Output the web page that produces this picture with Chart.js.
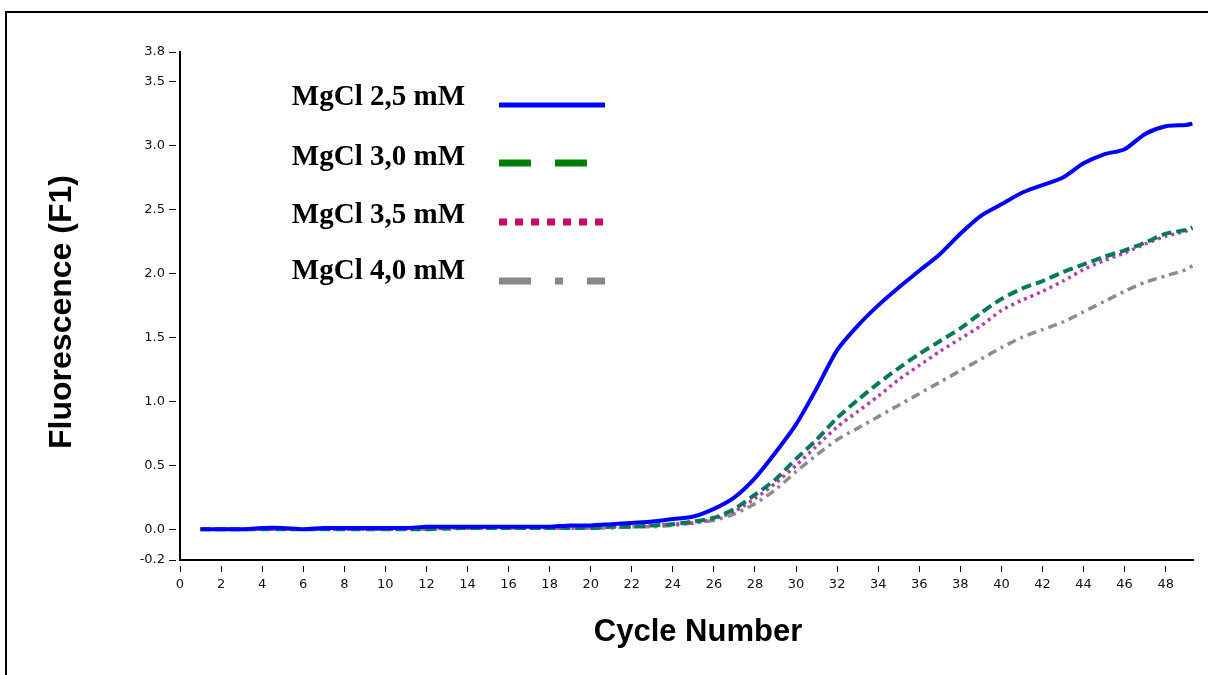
<!DOCTYPE html>
<html>
<head>
<meta charset="utf-8">
<script src="https://cdn.jsdelivr.net/npm/chart.js@4.4.1/dist/chart.umd.min.js"></script>
<style>
  html, body { margin: 0; padding: 0; background: #fff; }
  #wrap { position: relative; width: 1208px; height: 675px; }
</style>
</head>
<body>
<div id="wrap"><canvas id="pcrChart" width="1208" height="675"></canvas></div>
<script>
// amplification curves, one value per cycle (last point is the partial end of the run)
const cycles = [1, 2, 3, 4, 5, 6, 7, 8, 9, 10,
  11, 12, 13, 14, 15, 16, 17, 18, 19, 20,
  21, 22, 23, 24, 25, 26, 27, 28, 29, 30,
  31, 32, 33, 34, 35, 36, 37, 38, 39, 40,
  41, 42, 43, 44, 45, 46, 47, 48, 49, 49.3];

const mg25 = [0.00, 0.00, 0.00, 0.01, 0.01, 0.00, 0.01, 0.01, 0.01, 0.01,
  0.01, 0.02, 0.02, 0.02, 0.02, 0.02, 0.02, 0.02, 0.03, 0.03,
  0.04, 0.05, 0.06, 0.08, 0.10, 0.16, 0.25, 0.40, 0.60, 0.82,
  1.10, 1.40, 1.59, 1.75, 1.89, 2.02, 2.15, 2.31, 2.45, 2.54,
  2.63, 2.69, 2.75, 2.86, 2.93, 2.97, 3.09, 3.15, 3.16, 3.17];

const mg30 = [0.00, 0.00, 0.00, 0.00, 0.00, 0.00, 0.00, 0.00, 0.00, 0.00,
  0.00, 0.00, 0.01, 0.01, 0.01, 0.01, 0.01, 0.01, 0.01, 0.01,
  0.02, 0.02, 0.03, 0.04, 0.06, 0.09, 0.16, 0.27, 0.39, 0.55,
  0.70, 0.87, 1.01, 1.14, 1.26, 1.37, 1.47, 1.57, 1.69, 1.80,
  1.88, 1.94, 2.01, 2.07, 2.13, 2.18, 2.24, 2.31, 2.34, 2.36];

const mg35 = [0.00, 0.00, 0.00, 0.00, 0.00, 0.00, 0.00, 0.00, 0.00, 0.00,
  0.00, 0.00, 0.01, 0.01, 0.01, 0.01, 0.01, 0.01, 0.01, 0.01,
  0.02, 0.02, 0.03, 0.04, 0.05, 0.08, 0.14, 0.24, 0.36, 0.50,
  0.65, 0.80, 0.92, 1.04, 1.17, 1.28, 1.39, 1.49, 1.59, 1.71,
  1.79, 1.86, 1.94, 2.03, 2.10, 2.16, 2.23, 2.29, 2.33, 2.35];

const mg40 = [0.00, 0.00, 0.00, 0.00, 0.00, 0.00, 0.00, 0.00, 0.00, 0.00,
  0.00, 0.00, 0.00, 0.01, 0.01, 0.01, 0.01, 0.01, 0.01, 0.01,
  0.01, 0.02, 0.02, 0.03, 0.05, 0.07, 0.12, 0.20, 0.31, 0.45,
  0.58, 0.70, 0.79, 0.88, 0.97, 1.06, 1.15, 1.24, 1.33, 1.42,
  1.50, 1.56, 1.62, 1.70, 1.78, 1.86, 1.93, 1.98, 2.03, 2.06];

const seriesLabels = ["MgCl 2,5 mM", "MgCl 3,0 mM", "MgCl 3,5 mM", "MgCl 4,0 mM"];

const xTicks = [0, 2, 4, 6, 8, 10, 12, 14, 16, 18, 20, 22, 24,
  26, 28, 30, 32, 34, 36, 38, 40, 42, 44, 46, 48];
const yTicks = [-0.24, 0, 0.5, 1, 1.5, 2, 2.5, 3, 3.5, 3.73];
const yTickLabels = ["-0.2", "0.0", "0.5", "1.0", "1.5", "2.0", "2.5", "3.0", "3.5", "3.8"];

function toPoints(values) {
  return values.map((v, i) => ({ x: cycles[i], y: v }));
}

// legend swatches are drawn by hand: text on the left, line sample on the right
const legendStyles = [
  { color: "#0000ff", width: 5, dash: [], end: 605 },
  { color: "#008000", width: 7, dash: [32, 24], end: 587 },
  { color: "#cc0066", width: 7, dash: [8, 8], end: 605 },
  { color: "#888888", width: 7, dash: [32, 24, 8, 24], end: 605 }
];

const decorations = {
  id: "decorations",
  afterDraw(chart) {
    const ctx = chart.ctx;
    ctx.save();

    // outer frame
    ctx.strokeStyle = "#000";
    ctx.lineWidth = 2;
    ctx.strokeRect(6, 12, 1400, 1000);

    // axis titles
    ctx.fillStyle = "#000";
    ctx.textAlign = "center";
    ctx.textBaseline = "middle";
    ctx.font = "bold 31px 'Liberation Sans', Arial, sans-serif";
    ctx.fillText("Cycle Number", 698, 632);
    ctx.save();
    ctx.font = "bold 32px 'Liberation Sans', Arial, sans-serif";
    ctx.translate(62, 312);
    ctx.rotate(-Math.PI / 2);
    ctx.fillText("Fluorescence (F1)", 0, 0);
    ctx.restore();

    // legend
    ctx.font = "bold 29px 'Liberation Serif', 'Times New Roman', serif";
    ctx.textAlign = "right";
    ctx.textBaseline = "alphabetic";
    const baselines = [105, 165, 223, 279];
    const sampleY = [105, 163, 222, 281];
    seriesLabels.forEach((label, i) => {
      const st = legendStyles[i];
      ctx.fillStyle = "#000";
      ctx.fillText(label, 465, baselines[i]);
      ctx.strokeStyle = st.color;
      ctx.lineWidth = st.width;
      ctx.lineCap = "butt";
      ctx.setLineDash(st.dash);
      ctx.beginPath();
      ctx.moveTo(499, sampleY[i]);
      ctx.lineTo(st.end, sampleY[i]);
      ctx.stroke();
    });
    ctx.restore();
  }
};

const tickFont = { family: "'DejaVu Sans', sans-serif", size: 13 };

new Chart(document.getElementById("pcrChart").getContext("2d"), {
  type: "line",
  data: {
    datasets: [
      {
        label: seriesLabels[0],
        data: toPoints(mg25),
        borderColor: "#0000ff",
        borderWidth: 4,
        tension: 0.25
      },
      {
        label: seriesLabels[1],
        data: toPoints(mg30),
        borderColor: "#08785a",
        borderWidth: 4,
        borderDash: [10, 5],
        tension: 0.25
      },
      {
        label: seriesLabels[2],
        data: toPoints(mg35),
        borderColor: "#b040b0",
        borderWidth: 3.5,
        borderDash: [3, 4],
        tension: 0.25
      },
      {
        label: seriesLabels[3],
        data: toPoints(mg40),
        borderColor: "#8c8c8c",
        borderWidth: 3.5,
        borderDash: [9, 5, 3, 5],
        tension: 0.25
      }
    ]
  },
  options: {
    responsive: false,
    animation: false,
    elements: { point: { radius: 0 } },
    layout: { padding: { top: 52, right: 15, left: 0, bottom: 0 } },
    plugins: {
      legend: { display: false },
      tooltip: { enabled: false }
    },
    scales: {
      x: {
        type: "linear",
        min: 0,
        max: 49.33,
        afterBuildTicks: s => { s.ticks = xTicks.map(v => ({ value: v })); },
        afterFit: s => { s.height = 115; },
        ticks: { font: tickFont, color: "#111", padding: 5, maxRotation: 0, autoSkip: false },
        grid: { drawOnChartArea: false, color: "#000", tickLength: 12, tickBorderDash: [0, 5, 7, 20] },
        border: { color: "#000", width: 2 }
      },
      y: {
        min: -0.24,
        max: 3.73,
        afterBuildTicks: s => { s.ticks = yTicks.map(v => ({ value: v })); },
        afterFit: s => { s.width = 180; },
        ticks: {
          font: tickFont,
          color: "#111",
          padding: 4,
          callback: (v, i) => yTickLabels[i]
        },
        grid: { drawOnChartArea: false, color: "#000", tickLength: 11, tickBorderDash: [7, 20] },
        border: { color: "#000", width: 2 }
      }
    }
  },
  plugins: [decorations]
});
</script>
</body>
</html>
